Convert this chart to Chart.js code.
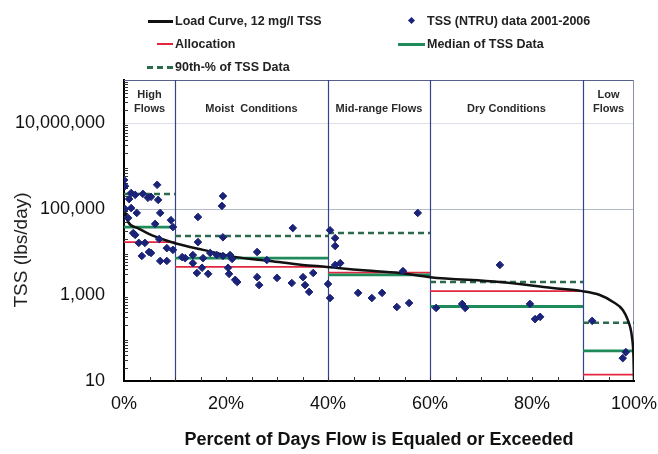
<!DOCTYPE html>
<html>
<head>
<meta charset="utf-8">
<script src="https://cdn.jsdelivr.net/npm/chart.js@4.4.1/dist/chart.umd.min.js"></script>
<style>
  html, body { margin: 0; padding: 0; background: #fff; }
  #wrap { position: relative; width: 658px; height: 454px; font-family: 'Liberation Sans', Arial, sans-serif; }
  #chart { position: absolute; left: 0; top: 0; }
  .lg { position: absolute; font-weight: bold; font-size: 12.5px; color: #222; white-space: nowrap; line-height: 14px; transform: translateY(-50%); }
  .sw { position: absolute; }
</style>
</head>
<body>
<div id="wrap">
  <canvas id="chart" width="658" height="454"></canvas>
</div>
<script>
// flow zones
const zoneEdges = [0, 10, 40, 60, 90, 100];
const zoneNames = [["High", "Flows"], ["Moist  Conditions"], ["Mid-range Flows"], ["Dry Conditions"], ["Low", "Flows"]];

// per-zone horizontal lines (lbs/day)
const allocation = [17000, 4500, 3300, 1230, 14];
const medianTSS = [38000, 7200, 2950, 540, 50];
const p90TSS = [224000, 23500, 27500, 2000, 225];

// load duration curve
const curvePct = [0, 0.3, 0.8, 2.7, 5.3, 8, 10, 15.5, 22, 28.6, 35, 39.8, 46.3, 54, 60, 73.7, 84, 89.8, 93.3, 95.9, 97.8, 98.8, 99.6, 99.9, 100];
const curveLoad = [120000, 80000, 50000, 36000, 25000, 19000, 16000, 11200, 7600, 6200, 5000, 4500, 3800, 3250, 2600, 2000, 1450, 1230, 1000, 690, 450, 260, 105, 36, 10];

// observed TSS loads
const obsPct = [
  0, 0.2, 1.4, 1.0, 2.2, 3.7, 4.7, 5.3, 6.5, 6.7, 0.2, 1.4, 2.5, 7.1, 0.8, 9.2, 6.1, 1.8, 2.2, 2.9,
  4.1, 3.5, 4.9, 5.3, 7.1, 8.4, 8.4, 9.6, 6.9, 9.6,
  19.4, 19.2, 14.5, 33.1, 19.4, 14.5, 26.1, 11.4, 12, 13.5, 15.5, 16.9, 18.2, 19.4, 20.8, 21.2, 28,
  13.5, 15.3, 20.4, 14.3, 16.5, 20.6, 21.8, 22.2, 26.1, 26.5, 30, 32.9, 35.1, 35.5, 36.3, 37.1,
  40.4, 41.4, 41.4, 41.4, 42.4, 40, 40.4, 45.9, 48.6, 50.6, 53.5, 55.9, 54.7, 57.6,
  61.2, 66.3, 66.9, 73.7, 79.6, 80.6, 81.6,
  91.8, 98.4, 97.8
];
const obsTSS = [
  470000, 340000, 235000, 170000, 213000, 225000, 182000, 192000, 365000, 163000, 100000, 105000, 81000, 81000, 62000, 55000, 45000, 27500, 25000, 16300,
  16300, 8100, 10000, 9500, 6200, 6200, 12300, 11200, 20000, 38000,
  200000, 118000, 65000, 36000, 22000, 17000, 10000, 7600, 7200, 8500, 7200, 9500, 8500, 8100, 8500, 6900, 6500,
  5500, 4300, 4300, 3250, 3100, 3100, 2250, 2000, 2600, 1700, 2500, 1900, 2600, 1700, 1180, 3250,
  32000, 21000, 13800, 5000, 5500, 1800, 850, 1120, 850, 1120, 525, 650, 3600, 81000,
  500, 620, 500, 5000, 620, 275, 310,
  250, 47, 34
];

const yTicks = [10, 1000, 100000, 10000000];

const FONT = "'Liberation Sans', Arial, sans-serif";
Chart.defaults.font.family = FONT;

function zoneSegments(vals) {
  const pts = [];
  vals.forEach((v, i) => {
    if (i) pts.push({ x: zoneEdges[i], y: null });
    pts.push({ x: zoneEdges[i], y: v }, { x: zoneEdges[i + 1], y: v });
  });
  return pts;
}

const datasets = [
  {
    label: "Load Curve, 12 mg/l TSS",
    data: curvePct.map((p, i) => ({ x: p, y: curveLoad[i] })),
    showLine: true, borderColor: "#111", borderWidth: 2.5, pointRadius: 0,
    cubicInterpolationMode: "monotone", order: 1
  },
  {
    label: "TSS (NTRU) data 2001-2006",
    data: obsPct.map((p, i) => ({ x: p, y: obsTSS[i] })),
    pointStyle: "rectRot", pointRadius: 3.8, backgroundColor: "#1b2378", borderColor: "#1b2378",
    borderWidth: 1, order: 0
  },
  {
    label: "Allocation",
    data: zoneSegments(allocation),
    showLine: true, spanGaps: false, borderColor: "#e3263f", borderWidth: 1.8, pointRadius: 0, order: 4
  },
  {
    label: "Median of TSS Data",
    data: zoneSegments(medianTSS),
    showLine: true, spanGaps: false, borderColor: "#1f8a5a", borderWidth: 2.8, pointRadius: 0, order: 3
  },
  {
    label: "90th-% of TSS Data",
    data: zoneSegments(p90TSS),
    showLine: true, spanGaps: false, borderColor: "#2b6a4c", borderWidth: 2.5, borderDash: [6, 4], pointRadius: 0, order: 2
  }
];

const framePlugin = {
  id: "frame",
  beforeDatasetsDraw(chart) {
    const { ctx, chartArea: a, scales: { x, y } } = chart;
    ctx.save();
    ctx.lineWidth = 1;
    ctx.strokeStyle = "#56608c";
    ctx.beginPath(); ctx.moveTo(a.left, a.top + 0.5); ctx.lineTo(a.right, a.top + 0.5); ctx.stroke();
    ctx.strokeStyle = "#8a90a8";
    ctx.beginPath(); ctx.moveTo(a.right - 0.5, a.top); ctx.lineTo(a.right - 0.5, a.bottom); ctx.stroke();

    // zone dividers
    ctx.strokeStyle = "#34448a"; ctx.lineWidth = 1.2;
    zoneEdges.slice(1, -1).forEach(e => {
      const px = Math.round(x.getPixelForValue(e)) + 0.5;
      ctx.beginPath(); ctx.moveTo(px, a.top); ctx.lineTo(px, a.bottom); ctx.stroke();
    });

    // inner minor ticks
    ctx.strokeStyle = "#333"; ctx.lineWidth = 1;
    ctx.beginPath();
    for (let p = 5; p < 100; p += 5) {
      const px = Math.round(x.getPixelForValue(p)) + 0.5;
      ctx.moveTo(px, a.bottom); ctx.lineTo(px, a.bottom - 4);
    }
    for (let d = 1; d < 8; d++) {
      for (let m = 2; m <= 9; m++) {
        const py = Math.round(y.getPixelForValue(m * Math.pow(10, d))) + 0.5;
        ctx.moveTo(a.left, py); ctx.lineTo(a.left + 4, py);
      }
    }
    ctx.stroke();

    // zone names
    ctx.fillStyle = "#2a2a2a";
    ctx.font = "bold 11px " + FONT;
    ctx.textAlign = "center"; ctx.textBaseline = "middle";
    zoneNames.forEach((lines, i) => {
      const cx = x.getPixelForValue((zoneEdges[i] + zoneEdges[i + 1]) / 2);
      lines.forEach((t, j) => ctx.fillText(t, cx, a.top + 29 - (lines.length - 1 - j) * 14));
    });
    ctx.restore();
  },
  afterDraw(chart) {
    const { ctx } = chart;
    ctx.save();
    ctx.translate(22, 250);
    ctx.rotate(-Math.PI / 2);
    ctx.fillStyle = "#222";
    ctx.font = "19px " + FONT;
    ctx.textAlign = "center"; ctx.textBaseline = "middle";
    ctx.fillText("TSS (lbs/day)", 0, 0);
    ctx.restore();
  }
};

new Chart(document.getElementById("chart"), {
  type: "scatter",
  data: { datasets },
  options: {
    responsive: false,
    animation: false,
    devicePixelRatio: 1,
    layout: { padding: { top: 80, right: 24, left: 0, bottom: 0 } },
    plugins: { legend: { display: false }, tooltip: { enabled: false } },
    scales: {
      x: {
        type: "linear", min: 0, max: 100, position: "bottom",
        border: { color: "#000", width: 2 },
        grid: { display: false, drawTicks: false },
        ticks: { stepSize: 20, callback: v => v + "%", font: { size: 18 }, color: "#111", padding: 12, maxRotation: 0 },
        title: { display: true, text: "Percent of Days Flow is Equaled or Exceeded", font: { size: 18, weight: "bold" }, color: "#111", padding: { top: 0, bottom: 3 } },
        afterFit: s => { s.height = 73; s.paddingLeft = 0; s.paddingRight = 0; }
      },
      y: {
        type: "logarithmic", min: 10, max: 100000000,
        border: { color: "#000", width: 2 },
        grid: {
          drawTicks: false, lineWidth: 1,
          color: c => c.tick.value === 100000 ? "#b4b9cc" : (c.tick.value === 10000000 ? "#dcdfe8" : "rgba(0,0,0,0)")
        },
        afterBuildTicks: s => { s.ticks = yTicks.map(v => ({ value: v })); },
        ticks: { callback: v => Number(v).toLocaleString("en-US"), font: { size: 18 }, color: "#111", padding: 19 },
        afterFit: s => { s.width = 124; s.paddingTop = 0; s.paddingBottom = 0; }
      }
    }
  },
  plugins: [framePlugin]
});

// legend built from the datasets
const legendSlots = [
  { ds: 0, x: 148, w: 25, y: 21 },
  { ds: 1, x: 409, w: 8, y: 21 },
  { ds: 2, x: 157, w: 16, y: 44 },
  { ds: 3, x: 398, w: 27, y: 44 },
  { ds: 4, x: 147, w: 26, y: 67 }
];
const wrap = document.getElementById("wrap");
legendSlots.forEach(s => {
  const d = datasets[s.ds];
  const sw = document.createElement("div");
  sw.className = "sw";
  if (d.showLine) {
    const bw = Math.round(d.borderWidth);
    sw.style.left = s.x + "px";
    sw.style.top = (s.y - bw / 2) + "px";
    sw.style.width = s.w + "px";
    sw.style.borderTop = bw + "px " + (d.borderDash ? "dashed " : "solid ") + d.borderColor;
  } else {
    sw.style.left = s.x + "px";
    sw.style.top = (s.y - 3) + "px";
    sw.style.width = "5px"; sw.style.height = "5px";
    sw.style.background = d.backgroundColor;
    sw.style.transform = "rotate(45deg)";
  }
  wrap.appendChild(sw);
  const t = document.createElement("div");
  t.className = "lg";
  t.textContent = d.label;
  t.style.left = (s.x + s.w + (d.showLine ? 2 : 10)) + "px";
  t.style.top = s.y + "px";
  wrap.appendChild(t);
});
</script>
</body>
</html>
